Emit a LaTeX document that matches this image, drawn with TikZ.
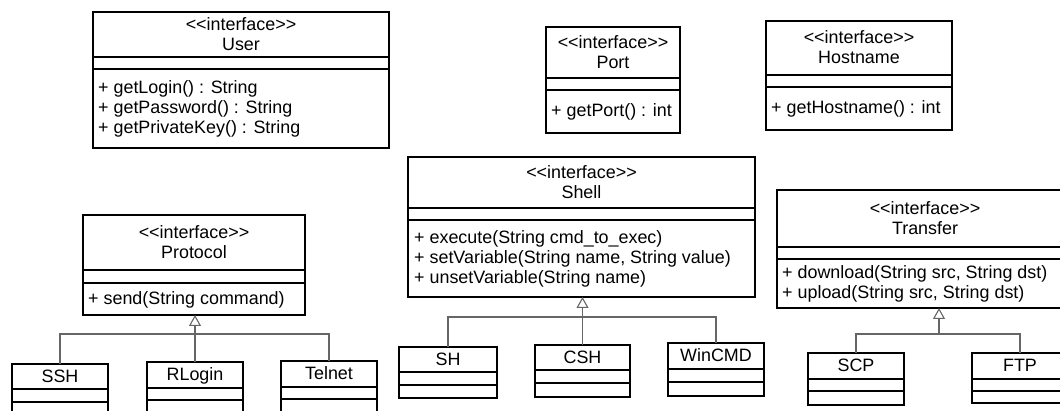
\documentclass[tikz,border=0pt]{standalone}
\usepackage{fontspec}
\setmainfont{Liberation Sans}[Ligatures=TeXOff]
\usetikzlibrary{arrows.meta,fit}
\tikzset{
  boxline/.style={line width=1.7pt, draw=black},
  umlframe/.style={boxline, inner sep=0pt, outer sep=0pt},
  conn/.style={line width=1.1pt, draw=black!60},
  gen/.style={conn, -{Triangle[open, width=12pt, length=11pt, fill=white]}},
  hd/.style={anchor=base, inner sep=0pt, font=\fontsize{17.9}{20}\selectfont},
  mt/.style={anchor=base west, inner sep=0pt, font=\fontsize{17.9}{20}\selectfont},
}
\newcommand{\umlclass}[7]{%
  \node[umlframe, fit={(#2,#3) (#4,#5)}] (#1) {};
  \draw[boxline] (#2,#6) -- (#4,#6);
  \draw[boxline] (#2,#7) -- (#4,#7);
}
\begin{document}
\begin{tikzpicture}[x=1pt, y=-1pt]
\useasboundingbox (0,0) rectangle (1060,411);
\clip (0,0) rectangle (1060,411);

% User
\umlclass{user}{93}{12}{389}{148}{57}{69}
\node[hd] (user-s) at (241,30.5) {<<interface>>};
\node[hd] (user-n) at (241,50.5) {User};
\node[mt] (user-m1) at (98,94) {+ getLogin() : String};
\node[mt] (user-m2) at (98,114) {+ getPassword() : String};
\node[mt] (user-m3) at (98,134) {+ getPrivateKey() : String};

% Port
\umlclass{port}{546}{27}{680}{133}{78}{90}
\node[hd] (port-s) at (613,48.5) {<<interface>>};
\node[hd] (port-n) at (613,68.5) {Port};
\node[mt] (port-m1) at (551,117) {+ getPort() : int};

% Hostname
\umlclass{host}{766}{21}{952}{130}{75}{87}
\node[hd] (host-s) at (859,44) {<<interface>>};
\node[hd] (host-n) at (859,64) {Hostname};
\node[mt] (host-m1) at (771,114) {+ getHostname() : int};

% Protocol
\umlclass{protocol}{83}{215}{305}{315}{270}{283}
\node[hd] (protocol-s) at (194,238.5) {<<interface>>};
\node[hd] (protocol-n) at (194,258.5) {Protocol};
\node[mt] (protocol-m1) at (88,304.5) {+ send(String command)};

% Shell
\umlclass{shell}{408}{157}{755}{297}{208}{220}
\node[hd] (shell-s) at (581.5,178.5) {<<interface>>};
\node[hd] (shell-n) at (581.5,198.5) {Shell};
\node[mt] (shell-m1) at (414,244) {+ execute(String cmd\_to\_exec)};
\node[mt] (shell-m2) at (414,264) {+ setVariable(String name, String value)};
\node[mt] (shell-m3) at (414,284) {+ unsetVariable(String name)};

% Transfer
\umlclass{transfer}{777}{190}{1073}{308}{247}{259}
\node[hd] (transfer-s) at (925,214.5) {<<interface>>};
\node[hd] (transfer-n) at (925,234.5) {Transfer};
\node[mt] (transfer-m1) at (782,279) {+ download(String src, String dst)};
\node[mt] (transfer-m2) at (782,299) {+ upload(String src, String dst)};

% Protocol implementations
\umlclass{ssh}{12}{364}{108}{420}{389}{402}
\node[hd] (ssh-n) at (60,382.5) {SSH};
\umlclass{rlogin}{147}{362}{243}{420}{388}{400}
\node[hd] (rlogin-n) at (195,381) {RLogin};
\umlclass{telnet}{281}{361}{377}{420}{387}{399}
\node[hd] (telnet-n) at (329,380) {Telnet};

% Shell implementations
\umlclass{sh}{399}{347}{497}{398}{372}{385}
\node[hd] (sh-n) at (448,365.5) {SH};
\umlclass{csh}{535}{345}{630}{397}{370}{383}
\node[hd] (csh-n) at (582.5,363.5) {CSH};
\umlclass{wincmd}{668}{343}{764}{396}{369}{382}
\node[hd] (wincmd-n) at (716,362) {WinCMD};

% Transfer implementations
\umlclass{scp}{808}{353}{904}{405}{379}{391}
\node[hd] (scp-n) at (856,372) {SCP};
\umlclass{ftp}{972}{353}{1068}{403}{379}{391}
\node[hd] (ftp-n) at (1020,372) {FTP};

% Generalisations
\coordinate (pbus) at (195,334);
\draw[conn] (ssh.north) |- (pbus) -| (telnet.north);
\draw[gen] (rlogin.north) -- (rlogin.north |- protocol.south);

\coordinate (sbus) at (582.5,317);
\draw[conn] (sh.north) |- (sbus) -| (wincmd.north);
\draw[gen] (csh.north) -- (csh.north |- shell.south);

\coordinate (tbus) at (939,334);
\draw[conn] (scp.north) |- (tbus) -| (ftp.north);
\draw[gen] (tbus) -- (tbus |- transfer.south);
\end{tikzpicture}
\end{document}
